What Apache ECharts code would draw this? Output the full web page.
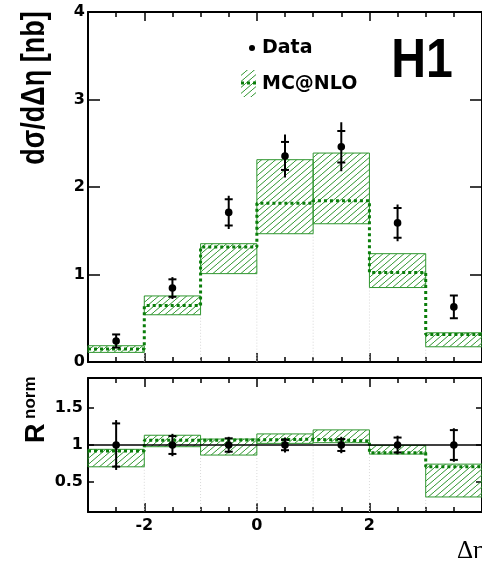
<!DOCTYPE html>
<html>
<head>
<meta charset="utf-8">
<script src="https://cdn.jsdelivr.net/npm/echarts@6/dist/echarts.min.js"></script>
<style>
  html, body { margin: 0; padding: 0; background: #fff; }
  #chart { width: 482px; height: 569px; }
</style>
</head>
<body>
<div id="chart"></div>
<script>
// Bin edges in delta-eta
const binEdges = [-3, -2, -1, 0, 1, 2, 3, 4];

// Cross section panel [nb]
const dataXsec = [0.24, 0.845, 1.71, 2.355, 2.46, 1.59, 0.63];
const dataStatErr = [0.075, 0.10, 0.15, 0.16, 0.18, 0.17, 0.13];
const dataTotErr = [0.075, 0.125, 0.19, 0.245, 0.28, 0.21, 0.135];
const mcCentral = [0.15, 0.645, 1.313, 1.814, 1.842, 1.022, 0.315];
const mcLow = [0.11, 0.54, 1.01, 1.466, 1.58, 0.851, 0.174];
const mcHigh = [0.186, 0.755, 1.352, 2.312, 2.388, 1.238, 0.334];

// Normalised ratio panel
const ratioData = [1, 1, 1, 1, 1, 1, 1];
const ratioStatErr = [0.29, 0.12, 0.09, 0.07, 0.08, 0.10, 0.20];
const ratioTotErr = [0.335, 0.15, 0.11, 0.10, 0.11, 0.125, 0.225];
const ratioCentral = [0.919, 1.064, 1.068, 1.077, 1.054, 0.896, 0.707];
const ratioLow = [0.707, 0.977, 0.865, 1.022, 1.031, 0.878, 0.302];
const ratioHigh = [0.942, 1.131, 1.08, 1.149, 1.203, 0.995, 0.743];

// Tick positions
const xLongTicks = [-2, 0, 2, 4];
const xTickLabels = [-2, 0, 2];
const ratioTicks = [0.5, 1, 1.5];

const GREEN = '#2f962f';
const DARKGREEN = '#0a7d0a';

// diagonal hatch tile used for the MC uncertainty band
function makeHatch() {
  const c = document.createElement('canvas');
  const w = 7, h = 6;
  c.width = w; c.height = h;
  const g = c.getContext('2d');
  g.strokeStyle = GREEN;
  g.lineWidth = 1;
  g.beginPath();
  for (let k = -1; k <= 1; k++) {
    g.moveTo(k * w, h);
    g.lineTo(k * w + w, 0);
  }
  g.stroke();
  return c;
}
const hatch = { image: makeHatch(), repeat: 'repeat' };

function bandData(lo, hi) {
  return lo.map((v, i) => [binEdges[i], binEdges[i + 1], v, hi[i]]);
}
function stepData(vals) {
  const out = vals.map((v, i) => [binEdges[i], v]);
  out.push([binEdges[binEdges.length - 1], vals[vals.length - 1]]);
  return out;
}
function pointData(vals, stat, tot) {
  return vals.map((v, i) => [(binEdges[i] + binEdges[i + 1]) / 2, v, stat[i], tot[i]]);
}
function edgeData(lo) {
  const out = [];
  for (let i = 1; i < binEdges.length - 1; i++) {
    out.push([binEdges[i], Math.min(lo[i - 1], lo[i])]);
  }
  return out;
}

function renderBand(params, api) {
  const a = api.coord([api.value(0), api.value(3)]);
  const b = api.coord([api.value(1), api.value(2)]);
  return {
    type: 'rect',
    shape: { x: a[0], y: a[1], width: b[0] - a[0], height: b[1] - a[1] },
    style: { fill: hatch, stroke: GREEN, lineWidth: 1 }
  };
}
function renderEdge(params, api) {
  const yMin = params.coordSys.y + params.coordSys.height;
  const t = api.coord([api.value(0), api.value(1)]);
  return {
    type: 'line',
    shape: { x1: t[0], y1: t[1], x2: t[0], y2: yMin },
    style: { stroke: '#d8d8d8', lineWidth: 1, lineDash: [1, 2] }
  };
}
function renderPoint(params, api) {
  const x = api.value(0), y = api.value(1), s = api.value(2), t = api.value(3);
  const c = api.coord([x, y]);
  const th = api.coord([x, y + t]), tl = api.coord([x, y - t]);
  const sh = api.coord([x, y + s]), sl = api.coord([x, y - s]);
  const st = { stroke: '#000', lineWidth: 2 };
  return {
    type: 'group',
    children: [
      { type: 'line', shape: { x1: c[0], y1: th[1], x2: c[0], y2: tl[1] }, style: st },
      { type: 'line', shape: { x1: c[0] - 4, y1: sh[1], x2: c[0] + 4, y2: sh[1] }, style: st },
      { type: 'line', shape: { x1: c[0] - 4, y1: sl[1], x2: c[0] + 4, y2: sl[1] }, style: st },
      { type: 'circle', shape: { cx: c[0], cy: c[1], r: 3.8 }, style: { fill: '#000' } }
    ]
  };
}

const labelFont = { fontFamily: 'DejaVu Sans', fontWeight: 'bold', fontSize: 16, color: '#000' };
const frameLine = { show: true, onZero: false, lineStyle: { color: '#000', width: 2 } };
const noLine = { show: false, onZero: false };
const tickStyle = { color: '#000', width: 1.5 };

function xAxes(grid, withLabels) {
  const base = { gridIndex: grid, type: 'value', min: -3, max: 4, interval: 0.5, splitLine: { show: false } };
  return [
    Object.assign({}, base, { position: 'bottom', axisLine: frameLine,
      axisTick: { inside: true, length: 5, lineStyle: tickStyle }, axisLabel: { show: false } }),
    Object.assign({}, base, { position: 'top', axisLine: frameLine,
      axisTick: { inside: true, length: 5, lineStyle: tickStyle }, axisLabel: { show: false } }),
    Object.assign({}, base, { position: 'bottom', axisLine: noLine,
      axisTick: { inside: true, length: 9, customValues: xLongTicks, lineStyle: tickStyle },
      axisLabel: withLabels ? Object.assign({ show: true, margin: 6, customValues: xTickLabels }, labelFont) : { show: false } }),
    Object.assign({}, base, { position: 'top', axisLine: noLine,
      axisTick: { inside: true, length: 9, customValues: xLongTicks, lineStyle: tickStyle },
      axisLabel: { show: false } })
  ];
}

const option = {
  animation: false,
  backgroundColor: '#fff',
  grid: [
    { left: 88, top: 12, width: 402, height: 350 },
    { left: 88, top: 378, width: 402, height: 134 }
  ],
  xAxis: xAxes(0, false).concat(xAxes(1, true)),
  yAxis: [
    { gridIndex: 0, type: 'value', position: 'left', min: 0, max: 4, interval: 1, axisLine: frameLine,
      axisTick: { show: true, inside: true, length: 12, lineStyle: tickStyle },
      axisLabel: Object.assign({ margin: 3 }, labelFont), splitLine: { show: false } },
    { gridIndex: 0, type: 'value', position: 'right', min: 0, max: 4, interval: 1, axisLine: frameLine,
      axisTick: { show: true, inside: true, length: 12, lineStyle: tickStyle },
      axisLabel: { show: false }, splitLine: { show: false } },
    { gridIndex: 1, type: 'value', position: 'left', min: 0.1, max: 1.9, axisLine: frameLine,
      axisTick: { show: true, inside: true, length: 6, customValues: ratioTicks, lineStyle: tickStyle },
      axisLabel: Object.assign({ margin: 5, customValues: ratioTicks }, labelFont), splitLine: { show: false } },
    { gridIndex: 1, type: 'value', position: 'right', min: 0.1, max: 1.9, axisLine: frameLine,
      axisTick: { show: true, inside: true, length: 6, customValues: ratioTicks, lineStyle: tickStyle },
      axisLabel: { show: false }, splitLine: { show: false } }
  ],
  series: [
    // upper panel
    { type: 'custom', xAxisIndex: 0, yAxisIndex: 0, renderItem: renderEdge, data: edgeData(mcLow), silent: true, z: 1 },
    { type: 'custom', xAxisIndex: 0, yAxisIndex: 0, renderItem: renderBand, data: bandData(mcLow, mcHigh), silent: true, z: 2 },
    { type: 'line', xAxisIndex: 0, yAxisIndex: 0, step: 'end', data: stepData(mcCentral), symbol: 'none', silent: true, z: 3,
      lineStyle: { color: DARKGREEN, width: 3, type: [3, 3] } },
    { type: 'custom', xAxisIndex: 0, yAxisIndex: 0, renderItem: renderPoint, data: pointData(dataXsec, dataStatErr, dataTotErr), silent: true, z: 4 },
    // ratio panel
    { type: 'custom', xAxisIndex: 4, yAxisIndex: 2, renderItem: renderEdge, data: edgeData(ratioLow), silent: true, z: 1 },
    { type: 'custom', xAxisIndex: 4, yAxisIndex: 2, renderItem: renderBand, data: bandData(ratioLow, ratioHigh), silent: true, z: 2 },
    { type: 'line', xAxisIndex: 4, yAxisIndex: 2, step: 'end', data: stepData(ratioCentral), symbol: 'none', silent: true, z: 3,
      lineStyle: { color: DARKGREEN, width: 3, type: [3, 3] },
      markLine: { silent: true, symbol: 'none', label: { show: false }, lineStyle: { color: '#000', width: 1.5, type: 'solid' },
        data: [{ yAxis: 1 }] } },
    { type: 'custom', xAxisIndex: 4, yAxisIndex: 2, renderItem: renderPoint, data: pointData(ratioData, ratioStatErr, ratioTotErr), silent: true, z: 4 }
  ],
  graphic: [
    // axis titles
    { type: 'text', x: 35, y: 88, rotation: Math.PI / 2, scaleY: 1.22,
      style: { text: 'dσ/dΔη [nb]', font: 'bold 27px "Liberation Sans"', fill: '#000',
        align: 'center', verticalAlign: 'middle', textAlign: 'center', textVerticalAlign: 'middle' } },
    { type: 'text', x: 37, y: 443, rotation: Math.PI / 2,
      style: { text: 'R', font: 'bold 27px "Liberation Sans"', fill: '#000',
        align: 'left', verticalAlign: 'middle', textAlign: 'left', textVerticalAlign: 'middle' } },
    { type: 'text', x: 30, y: 419, rotation: Math.PI / 2,
      style: { text: 'norm', font: 'bold 17px "Liberation Sans"', fill: '#000',
        align: 'left', verticalAlign: 'middle', textAlign: 'left', textVerticalAlign: 'middle' } },
    { type: 'text', x: 457, y: 564,
      style: { text: 'Δη', font: '25px "Liberation Serif"', fill: '#000',
        align: 'left', verticalAlign: 'bottom', textAlign: 'left', textVerticalAlign: 'bottom' } },
    // legend
    { type: 'circle', shape: { cx: 252, cy: 48, r: 3 }, style: { fill: '#000' } },
    { type: 'text', x: 262, y: 48,
      style: { text: 'Data', font: 'bold 19px "DejaVu Sans"', fill: '#000',
        align: 'left', verticalAlign: 'middle', textAlign: 'left', textVerticalAlign: 'middle' } },
    { type: 'rect', shape: { x: 241, y: 70, width: 15, height: 27 }, style: { fill: hatch } },
    { type: 'line', shape: { x1: 241, y1: 83, x2: 256, y2: 83 }, style: { stroke: DARKGREEN, lineWidth: 3, lineDash: [3, 3] } },
    { type: 'text', x: 262, y: 84,
      style: { text: 'MC@NLO', font: 'bold 19px "DejaVu Sans"', fill: '#000',
        align: 'left', verticalAlign: 'middle', textAlign: 'left', textVerticalAlign: 'middle' } },
    { type: 'text', x: 422, y: 62, scaleX: 0.86,
      style: { text: 'H1', font: 'bold 56px "Liberation Sans"', fill: '#000',
        align: 'center', verticalAlign: 'middle', textAlign: 'center', textVerticalAlign: 'middle' } }
  ]
};

const chart = echarts.init(document.getElementById('chart'), null, { renderer: 'canvas' });
chart.setOption(option);
</script>
</body>
</html>
